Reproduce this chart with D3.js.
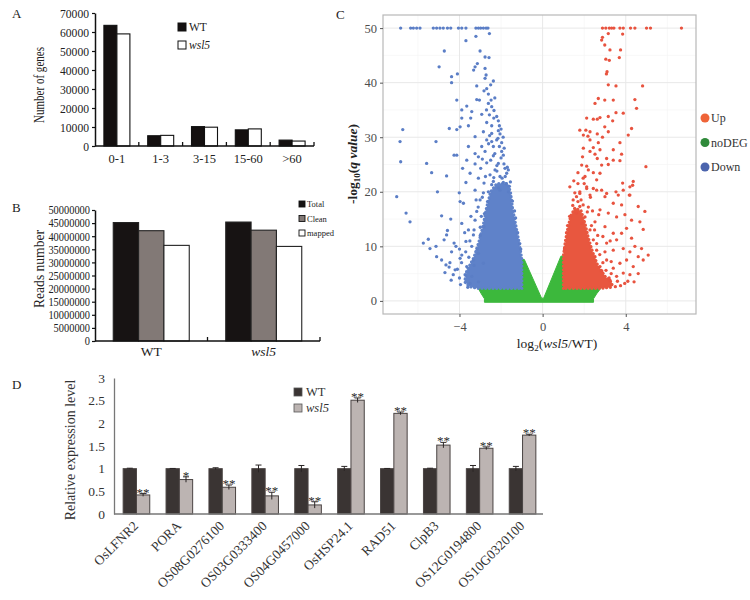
<!DOCTYPE html>
<html><head><meta charset="utf-8">
<script src="https://cdn.jsdelivr.net/npm/d3@7"></script>
<style>
html,body{margin:0;padding:0;background:#fff;}
svg{display:block;font-family:"Liberation Serif","Times New Roman",serif;}
</style></head>
<body><svg id="c" width="750" height="600"></svg>
<script>
// ---------- Panel A data ----------
const geneCats = ["0-1","1-3","3-15","15-60",">60"];
const geneWT = [63500, 5400, 10200, 8500, 3100];
const geneWsl5 = [59000, 5600, 9900, 9000, 2600];
const geneTicks = [0,10000,20000,30000,40000,50000,60000,70000];
// ---------- Panel B data ----------
const readSamples = ["WT","wsl5"];
const readTypes = ["Total","Clean","mapped"];
const readsWT = [45200000, 42100000, 36500000];
const readsWsl5 = [45400000, 42300000, 36100000];
const readTicks = [0,5000000,10000000,15000000,20000000,25000000,30000000,35000000,40000000,45000000,50000000];
// ---------- Panel C data (log2FC, -log10 q) ----------
const volXTicks = [-4,0,4];
const volYTicks = [0,10,20,30,40,50];
const noDegShape = [[-1.0,7.6],[-1.0,2.3],[-3.1,2.3],[-2.95,1.3],[-2.8,0.4],[-2.8,-0.25],[2.45,-0.25],[2.45,0.4],[2.6,1.3],[2.8,2.3],[1.0,2.3],[1.0,8.2],[0.88,8.2],[0.05,0.5],[-0.05,0.5],[-0.88,7.6]];
const downCore = [[-1.0,2.3],[-1.0,7.6],[-1.15,11],[-1.3,14],[-1.45,17],[-1.55,20],[-1.7,21.5],[-2.2,21.5],[-2.5,20],[-2.7,17],[-2.85,14],[-3.05,11],[-3.3,8],[-3.65,5.5],[-3.75,3.5],[-3.5,2.6],[-3.1,2.3]];
const upCore = [[1.0,2.3],[1.0,8.2],[1.1,11],[1.2,13],[1.35,15.5],[1.55,17],[1.85,16.5],[2.05,14],[2.2,11.5],[2.4,9],[2.65,6.5],[3.0,4.5],[3.35,3.2],[3.3,2.5],[2.8,2.3]];
const downPts = [
[-6.83,50],[-6.35,50],[-6.22,50],[-6.06,50],[-5.90,50],[-5.26,50],[-5.10,50],[-4.94,50],[-4.78,50],[-4.58,50],[-4.42,50],[-4.05,50],[-3.89,50],[-3.69,50],[-3.21,50],[-3.09,50],[-2.98,50],[-2.85,50],[-2.72,50],[-2.63,50],
[-2.56,49.0],[-3.21,48.5],[-3.69,47.7],[-4.73,45.8],[-3.01,45.8],[-2.77,44.7],[-2.58,44.6],[-4.98,42.9],[-3.25,42.9],[-3.14,43.5],[-3.32,42.3],[-2.77,42.6],[-2.72,41.4],[-2.77,40.8],[-4.10,41.6],[-4.38,41.1],[-4.38,40.0],[-2.37,40.3],[-2.50,39.6],[-3.17,39.4],[-2.69,38.9],[-2.82,38.5],[-2.61,37.9],[-4.13,36.8],[-3.17,36.9],[-3.04,36.8],[-2.48,36.8],[-2.61,36.2],[-3.65,35.7],[-2.45,35.6],[-3.89,35.0],[-3.41,34.7],[-2.34,34.9],[-2.93,34.2],[-2.56,34.1],[-2.21,33.8],[-3.89,33.5],[-3.46,33.5],[-2.13,33.0],[-2.69,32.7],[-3.97,31.9],[-2.45,32.1],[-2.08,32.1],[-4.49,31.6],[-4.13,31.4],[-3.57,32.1],[-2.13,31.2],[-6.73,31.4],[-2.85,31.0],[-2.45,30.7],[-2.05,30.6],[-3.25,30.1],[-2.69,29.5],[-2.45,29.2],[-6.86,29.2],[-5.13,29.2],[-2.21,29.5],[-1.97,29.0],[-3.57,28.3],[-2.93,28.3],[-2.37,28.3],[-2.08,28.3],[-4.13,26.7],[-4.26,26.7],[-3.25,27.0],[-2.77,27.4],[-1.97,27.4],[-3.09,26.4],[-2.37,26.6],[-1.89,26.7],[-6.83,25.5],[-5.58,25.2],[-3.65,25.8],[-3.25,25.1],[-2.69,25.3],[-2.13,25.2],[-1.86,25.1],[-3.85,24.3],[-2.98,24.3],[-2.29,24.0],[-1.81,24.3],[-5.34,23.5],[-4.62,22.9],[-3.49,23.4],[-3.09,22.5],[-2.53,23.1],[-2.05,22.8],[-1.73,23.4],[-3.69,21.7],[-2.82,21.6],[-2.37,21.9],[-1.89,21.7],[-5.06,20.0],[-4.01,19.8],[-3.25,20.3],[-7.02,19.1],[-2.61,20.0],[-2.13,20.7],[-1.65,20.0],
[-6.57,16.1],[-6.38,14.5],[-4.86,15.6],[-5.74,10.6],[-5.50,11.3],[-5.42,9.6],[-5.13,10.0],[-4.58,12.9],[-4.62,12.1],[-4.74,11.2],[-4.42,15.0],[-4.26,10.6],[-4.17,10.0],[-3.97,18.2],[-3.81,17.9],[-3.89,14.2],[-3.57,13.0],[-3.69,10.9],[-3.33,12.1],[-3.41,10.0],[-3.25,14.8],[-3.17,16.4],[-3.01,18.5],[-2.82,13.6],[-5.10,8.1],[-4.86,7.5],[-4.65,6.6],[-4.46,7.0],[-3.97,7.8],[-3.65,6.3],[-4.21,5.7],[-3.73,4.8],[-3.41,4.5],[-4.38,9.0],[-3.89,8.4],[-3.33,7.5],[-3.09,8.7],[-2.85,6.9],[-3.49,3.2],[-3.09,3.5],
[-1.75,21.5],[-1.95,22.5],[-2.2,23.8],[-1.7,24.5],[-2.5,25.8],[-2.0,26.2],[-2.3,27.0],[-1.85,28.0],[-2.15,29.8],[-2.55,30.3],[-2.0,31.5],[-2.35,33.5],[-2.7,35.0],[-2.3,37.2],[-2.2,24.8],[-2.45,21.3],[-2.75,22.8],[-1.6,21.0],[-2.9,26.0],[-2.6,28.8],[-1.9,30.0],
[-2.9,19.0],[-3.1,17.2],[-2.95,15.5],[-3.3,13.0],[-3.5,11.0],[-3.7,9.0],[-3.9,7.0],[-4.1,5.8],[-4.0,4.2],[-3.95,3.0],[-3.6,2.5],[-4.3,4.8],[-4.5,6.2],[-4.0,9.5],[-3.75,12.5],[-3.45,15.5],[-3.2,18.5],[-2.85,19.8],[-3.55,8.0],[-3.3,6.5],[-4.7,5.2],[-4.4,3.8],[-3.0,12.0],[-3.15,9.5],
[-1.05,9.5],[-1.2,12.5],[-1.3,15.2],[-1.45,18.3],[-1.55,21.8],[-1.65,24.0],[-1.1,10.5],[-1.35,16.5],[-1.8,22.8],[-2.05,20.3],[-2.35,22.6],[-2.65,18.2],[-2.8,16.0],[-3.0,13.5]
];
const upPts = [
[2.88,50],[3.04,50],[3.21,50],[3.32,50],[3.43,50],[3.72,50],[3.88,50],[4.23,50],[4.44,50],[5.0,50],[5.19,50],[6.68,50],
[3.16,49.0],[2.88,48.3],[2.84,47.8],[3.85,48.9],[2.99,46.9],[3.24,46.0],[3.75,46.0],[3.04,44.3],[3.21,44.1],[3.69,44.6],[3.10,42.0],[3.07,41.6],[3.16,39.6],[3.53,39.4],[4.81,39.4],[2.68,37.1],[2.99,36.8],[3.40,36.8],[4.44,36.9],[4.52,35.3],[2.52,36.2],[3.53,34.5],[3.88,34.4],[2.76,33.6],[3.16,33.8],[2.12,33.5],[2.44,33.3],[2.63,33.3],[3.37,33.0],[2.99,31.9],[4.28,31.6],[1.79,31.3],[2.08,31.3],[2.28,31.0],[3.16,31.0],[1.96,30.4],[2.18,30.2],[2.63,30.6],[2.88,30.0],[4.12,30.4],[2.28,29.5],[2.68,29.0],[3.72,29.0],[1.96,28.0],[2.44,28.1],[2.76,27.7],[3.40,27.7],[2.28,27.4],[2.52,26.9],[3.80,26.9],[1.92,26.4],[2.63,26.1],[3.08,26.1],[3.40,25.8],[3.72,25.7],[1.88,24.9],[2.12,24.7],[2.84,24.9],[3.16,25.0],[4.97,24.6],[2.20,24.0],[2.44,23.5],[2.76,23.4],[2.04,22.8],[2.60,22.2],[3.85,21.6],[4.36,21.9],[4.20,20.9],[2.12,20.9],[2.44,20.6],[2.84,20.3],[3.53,20.0],[1.79,20.0],[1.63,19.1],[2.28,19.4],[4.17,19.4],[3.00,19.1],
[1.31,20.9],[1.79,19.7],[2.12,20.6],[2.60,20.3],[3.08,19.7],[3.64,19.4],[3.88,20.3],[4.33,21.2],[4.20,19.4],[3.40,17.9],[3.80,17.6],[4.60,17.3],[4.92,16.4],[2.76,16.7],[3.16,16.1],[3.56,15.4],[3.96,15.8],[4.28,14.8],[4.68,14.5],[4.84,13.1],[4.04,13.3],[3.00,13.6],[2.52,14.5],[3.40,12.4],[3.80,12.4],[3.56,11.2],[4.28,11.5],[4.44,10.0],[4.76,9.6],[5.08,8.4],[4.84,7.5],[4.60,8.1],[4.20,9.0],[3.88,9.6],[3.40,9.3],[3.08,10.6],[4.04,7.5],[4.36,6.3],[3.72,6.9],[3.40,6.0],[3.08,7.5],[3.88,5.1],[4.20,4.8],[3.56,4.5],[3.24,3.8],[2.76,6.3],[2.52,8.1],[2.44,11.2],[2.28,13.0],[2.04,15.4],[1.79,17.3],[1.63,16.1],[1.88,14.2],[1.47,18.5],
[1.05,9.5],[1.15,12.5],[1.2,13.8],[1.3,15.5],[1.45,17.5],[1.55,19.8],[1.7,21.5],[2.0,21.5],[2.3,19.0],[2.4,16.5],[2.5,13.0],[2.6,10.5],[2.75,8.5],[2.9,7.0],[3.05,5.6],[3.3,5.0],[3.6,3.6],[3.75,2.8],[3.95,3.2],[3.5,2.6],[3.2,4.2],[2.85,5.5],[2.6,9.3],[2.35,13.8],[2.2,17.2],[1.95,22.5],[1.7,23.5],[1.5,22.0],[2.9,11.8],[2.7,15.8],[3.25,11.0],[3.0,9.0],[3.3,7.2],[4.1,3.6],[4.4,3.5],[4.6,5.0],[2.65,12.0],[1.85,18.5],[1.95,17.6],[2.15,16.3],[1.7,18.2]
];
const volLegend = ["Up","noDEG","Down"];
// ---------- Panel D data ----------
const qGenes = ["OsLFNR2","PORA","OS08G0276100","OS03G0333400","OS04G0457000","OsHSP24.1","RAD51","ClpB3","OS12G0194800","OS10G0320100"];
const exprWT = [1,1,1,1,1,1,1,1,1,1];
const errWT = [0.01,0.005,0.02,0.08,0.07,0.05,0.005,0.01,0.07,0.05];
const exprWsl5 = [0.42,0.76,0.59,0.40,0.20,2.51,2.22,1.52,1.45,1.74];
const errWsl5 = [0.03,0.06,0.05,0.08,0.07,0.05,0.03,0.06,0.03,0.02];
const sigMarks = ["**","*","**","**","**","**","**","**","**","**"];
const exprTicks = [0,0.5,1,1.5,2,2.5,3];

const svg = d3.select("#c");
const FONT = '"Liberation Serif","Times New Roman",serif';

function panelLetter(t,x,y){ svg.append("text").attr("x",x).attr("y",y).attr("font-size",13).attr("fill","#222").text(t); }

// ================= Panel A =================
(function(){
  const g = svg.append("g");
  const xA = d3.scaleBand().domain(geneCats).range([95,314]);
  const sA = d3.scaleBand().domain(["WT","wsl5"]).range([0,26]);
  const yA = d3.scaleLinear().domain([0,70000]).range([146,13]);
  const off = (xA.bandwidth()-26)/2;
  const series = [["WT",geneWT,"#141010"],["wsl5",geneWsl5,"#fff"]];
  series.forEach(([k,vals,col])=>{
    g.selectAll(null).data(geneCats).join("rect")
      .attr("x",c=>xA(c)+off+sA(k)).attr("width",sA.bandwidth())
      .attr("y",(c,i)=>yA(vals[i])).attr("height",(c,i)=>yA(0)-yA(vals[i]))
      .attr("fill",col).attr("stroke","#111").attr("stroke-width",1.1);
  });
  const ay = g.append("g").attr("transform","translate(95,0)")
    .call(d3.axisLeft(yA).tickValues(geneTicks).tickSize(3).tickSizeOuter(0).tickFormat(d3.format("d")));
  ay.select(".domain").attr("stroke","#111").attr("stroke-width",1.5);
  ay.selectAll(".tick line").attr("stroke","#111").attr("stroke-width",1.2);
  ay.selectAll("text").attr("font-family",FONT).attr("font-size",13).attr("fill","#222").attr("x",-6)
    .attr("textLength",function(){return this.textContent.length*5.8;}).attr("lengthAdjust","spacingAndGlyphs");
  g.append("line").attr("x1",95).attr("x2",314).attr("y1",yA(0)).attr("y2",yA(0)).attr("stroke","#111").attr("stroke-width",1.5);
  g.selectAll(null).data(geneCats).join("line")
    .attr("x1",c=>xA(c)+xA.bandwidth()).attr("x2",c=>xA(c)+xA.bandwidth())
    .attr("y1",yA(0)).attr("y2",yA(0)-4).attr("stroke","#111").attr("stroke-width",1.3);
  g.selectAll(null).data(geneCats).join("text")
    .attr("x",c=>xA(c)+xA.bandwidth()/2).attr("y",163).attr("text-anchor","middle")
    .attr("font-size",12.5).attr("fill","#222").text(c=>c);
  g.append("text").attr("transform","translate(44,85) rotate(-90)").attr("text-anchor","middle")
    .attr("font-size",14.5).attr("fill","#222").attr("textLength",76).attr("lengthAdjust","spacingAndGlyphs").text("Number of  genes");
  const lg = [["WT","#141010",27,false],["wsl5","#fff",45,true]];
  lg.forEach(([t,c,y,it])=>{
    g.append("rect").attr("x",178).attr("y",y-4).attr("width",8).attr("height",8).attr("fill",c).attr("stroke","#111").attr("stroke-width",1);
    g.append("text").attr("x",189).attr("y",y+4).attr("font-size",11.5).attr("fill","#222").attr("font-style",it?"italic":"normal").text(t);
  });
  panelLetter("A",12,18);
})();

// ================= Panel B =================
(function(){
  const g = svg.append("g");
  const xB = d3.scaleBand().domain(readSamples).range([95,320]);
  const sB = d3.scaleBand().domain(readTypes).range([0,76]);
  const yB = d3.scaleLinear().domain([0,50000000]).range([341,210]);
  const cols = {"Total":"#171313","Clean":"#827976","mapped":"#fff"};
  const off = (xB.bandwidth()-76)/2;
  const vals = {"WT":readsWT,"wsl5":readsWsl5};
  readSamples.forEach(smp=>{
    g.selectAll(null).data(readTypes).join("rect")
      .attr("x",t=>xB(smp)+off+sB(t)).attr("width",sB.bandwidth())
      .attr("y",(t,i)=>yB(vals[smp][i])).attr("height",(t,i)=>yB(0)-yB(vals[smp][i]))
      .attr("fill",t=>cols[t]).attr("stroke","#222").attr("stroke-width",1.1);
  });
  const ay = g.append("g").attr("transform","translate(95,0)")
    .call(d3.axisLeft(yB).tickValues(readTicks).tickSize(3).tickSizeOuter(0).tickFormat(d3.format("d")));
  ay.select(".domain").attr("stroke","#111").attr("stroke-width",1.5);
  ay.selectAll(".tick line").attr("stroke","#111").attr("stroke-width",1.2);
  ay.selectAll("text").attr("font-family",FONT).attr("font-size",12).attr("fill","#222").attr("x",-5)
    .attr("textLength",function(){return this.textContent.length*5.2;}).attr("lengthAdjust","spacingAndGlyphs");
  g.append("line").attr("x1",95).attr("x2",320).attr("y1",yB(0)).attr("y2",yB(0)).attr("stroke","#111").attr("stroke-width",1.5);
  g.selectAll(null).data(readSamples).join("line")
    .attr("x1",d=>xB(d)+xB.bandwidth()).attr("x2",d=>xB(d)+xB.bandwidth())
    .attr("y1",yB(0)).attr("y2",yB(0)-4).attr("stroke","#111").attr("stroke-width",1.3);
  g.selectAll(null).data(readSamples).join("text")
    .attr("x",d=>xB(d)+xB.bandwidth()/2).attr("y",356).attr("text-anchor","middle")
    .attr("font-size",13.5).attr("fill","#222").attr("font-style",d=>d==="wsl5"?"italic":"normal").text(d=>d);
  g.append("text").attr("transform","translate(44,269) rotate(-90)").attr("text-anchor","middle")
    .attr("font-size",14.5).attr("fill","#222").attr("textLength",78).attr("lengthAdjust","spacingAndGlyphs").text("Reads number");
  readTypes.forEach((t,i)=>{
    const y = 204 + i*14.5;
    g.append("rect").attr("x",299).attr("y",y-3).attr("width",6).attr("height",6).attr("fill",cols[t]).attr("stroke","#111").attr("stroke-width",0.9);
    g.append("text").attr("x",307).attr("y",y+3).attr("font-size",8.5).attr("fill","#222").text(t);
  });
  panelLetter("B",12,212);
})();

// ================= Panel C =================
(function(){
  const g = svg.append("g");
  const xC = d3.scaleLinear().domain([-7.68,7.38]).range([383,696]);
  const yC = d3.scaleLinear().domain([-2.4,52.4]).range([314,15]);
  svg.append("defs").append("clipPath").attr("id","clipC").append("rect")
    .attr("x",383).attr("y",15).attr("width",313).attr("height",299);
  const minorX = [-6,-2,2,6], minorY=[5,15,25,35,45];
  g.selectAll(null).data(minorX).join("line").attr("x1",d=>xC(d)).attr("x2",d=>xC(d)).attr("y1",15).attr("y2",314).attr("stroke","#f3f3f3").attr("stroke-width",0.6);
  g.selectAll(null).data(minorY).join("line").attr("y1",d=>yC(d)).attr("y2",d=>yC(d)).attr("x1",383).attr("x2",696).attr("stroke","#f3f3f3").attr("stroke-width",0.6);
  g.selectAll(null).data(volXTicks).join("line").attr("x1",d=>xC(d)).attr("x2",d=>xC(d)).attr("y1",15).attr("y2",314).attr("stroke","#e8e8e8").attr("stroke-width",1);
  g.selectAll(null).data(volYTicks).join("line").attr("y1",d=>yC(d)).attr("y2",d=>yC(d)).attr("x1",383).attr("x2",696).attr("stroke","#e8e8e8").attr("stroke-width",1);
  const pg = g.append("g").attr("clip-path","url(#clipC)");
  const line = d3.line().x(d=>xC(d[0])).y(d=>yC(d[1])).curve(d3.curveLinearClosed);
  pg.append("path").attr("d",line(noDegShape)).attr("fill","#3cb83c").attr("stroke","#3cb83c").attr("stroke-width",1);
  [[downCore,"#5f82c9"],[upCore,"#e8573f"]].forEach(([s,c])=>{
    pg.append("path").attr("d",line(s)).attr("fill",c)
      .attr("stroke",c).attr("stroke-width",3.2).attr("stroke-linecap","round").attr("stroke-dasharray","0.1 3.6");
  });
  pg.selectAll(null).data(downPts).join("circle").attr("cx",d=>xC(d[0])).attr("cy",d=>yC(d[1])).attr("r",1.65).attr("fill","#5b7ec6");
  pg.selectAll(null).data(upPts).join("circle").attr("cx",d=>xC(d[0])).attr("cy",d=>yC(d[1])).attr("r",1.65).attr("fill","#e8533f");
  g.append("rect").attr("x",383).attr("y",15).attr("width",313).attr("height",299).attr("fill","none").attr("stroke","#b8b8b8").attr("stroke-width",1.2);
  const ay = g.append("g").attr("transform","translate(383,0)").call(d3.axisLeft(yC).tickValues(volYTicks).tickSize(3).tickSizeOuter(0));
  ay.select(".domain").remove();
  ay.selectAll(".tick line").attr("stroke","#555");
  ay.selectAll("text").attr("font-family",FONT).attr("font-size",12.5).attr("fill","#4d4d4d");
  const ax = g.append("g").attr("transform","translate(0,314)").call(d3.axisBottom(xC).tickValues(volXTicks).tickSize(3).tickSizeOuter(0));
  ax.select(".domain").remove();
  ax.selectAll(".tick line").attr("stroke","#555");
  ax.selectAll("text").attr("font-family",FONT).attr("font-size",12.5).attr("fill","#4d4d4d").attr("dy","0.9em");
  const xt = g.append("text").attr("x",557).attr("y",348).attr("text-anchor","middle").attr("font-size",13.5).attr("fill","#222");
  xt.append("tspan").text("log");
  xt.append("tspan").attr("dy",3).attr("font-size",9).text("2");
  xt.append("tspan").attr("dy",-3).text("(");
  xt.append("tspan").attr("font-style","italic").text("wsl5");
  xt.append("tspan").text("/WT)");
  const yt = g.append("text").attr("transform","translate(357,164) rotate(-90)").attr("text-anchor","middle").attr("font-size",13.5).attr("fill","#222").attr("font-weight","bold");
  yt.append("tspan").text("-log");
  yt.append("tspan").attr("dy",3).attr("font-size",9).text("10");
  yt.append("tspan").attr("dy",-3).text("(");
  yt.append("tspan").attr("font-style","italic").text("q value");
  yt.append("tspan").text(")");
  const lcol = {"Up":"#ef6438","noDEG":"#2f8a3a","Down":"#4b64ad"};
  volLegend.forEach((t,i)=>{
    const y = 118 + i*24.5;
    g.append("circle").attr("cx",705).attr("cy",y).attr("r",4.5).attr("fill",lcol[t]);
    g.append("text").attr("x",711).attr("y",y+4).attr("font-size",12).attr("fill","#333").text(t);
  });
  panelLetter("C",336,19);
})();

// ================= Panel D =================
(function(){
  const g = svg.append("g");
  const xD = d3.scaleBand().domain(qGenes).range([114,543]);
  const sD = d3.scaleBand().domain(["WT","wsl5"]).range([0,26.6]);
  const yD = d3.scaleLinear().domain([0,3]).range([514,378]);
  const off = (xD.bandwidth()-26.6)/2 + 1;
  const ser = [["WT",exprWT,errWT,"#3a3433"],["wsl5",exprWsl5,errWsl5,"#bcb4b2"]];
  ser.forEach(([k,vals,errs,col])=>{
    g.selectAll(null).data(qGenes).join("rect")
      .attr("x",c=>xD(c)+off+sD(k)).attr("width",sD.bandwidth())
      .attr("y",(c,i)=>yD(vals[i])).attr("height",(c,i)=>yD(0)-yD(vals[i]))
      .attr("fill",col).attr("stroke","#4a4443").attr("stroke-width",1);
    const cx = c=>xD(c)+off+sD(k)+sD.bandwidth()/2;
    g.selectAll(null).data(qGenes).join("line")
      .attr("x1",cx).attr("x2",cx)
      .attr("y1",(c,i)=>yD(vals[i]-errs[i])).attr("y2",(c,i)=>yD(vals[i]+errs[i]))
      .attr("stroke","#2a2525").attr("stroke-width",1);
    g.selectAll(null).data(qGenes).join("line")
      .attr("x1",c=>cx(c)-3).attr("x2",c=>cx(c)+3)
      .attr("y1",(c,i)=>yD(vals[i]+errs[i])).attr("y2",(c,i)=>yD(vals[i]+errs[i]))
      .attr("stroke","#2a2525").attr("stroke-width",1);
    if(k==="wsl5"){
      g.selectAll(null).data(qGenes).join("text")
        .attr("x",cx).attr("y",(c,i)=>yD(vals[i]+errs[i])+3).attr("text-anchor","middle")
        .attr("font-size",13).attr("fill","#2b2b2b").text((c,i)=>sigMarks[i]);
    }
  });
  const ay = g.append("g").attr("transform","translate(114,0)")
    .call(d3.axisLeft(yD).tickValues(exprTicks).tickSize(0).tickSizeOuter(0).tickFormat(d=>String(d)));
  ay.select(".domain").attr("stroke","#777").attr("stroke-width",1.3);
  ay.selectAll("text").attr("font-family",FONT).attr("font-size",13.5).attr("fill","#333").attr("x",-9);
  g.append("line").attr("x1",114).attr("x2",543).attr("y1",yD(0)).attr("y2",yD(0)).attr("stroke","#777").attr("stroke-width",1.3);
  g.selectAll(null).data(qGenes).join("text")
    .attr("transform",c=>`translate(${xD(c)+xD.bandwidth()/2-3},${520}) rotate(-45)`)
    .attr("text-anchor","end").attr("dy","0.7em").attr("font-size",13.5).attr("fill","#333").text(c=>c);
  g.append("text").attr("transform","translate(75,450) rotate(-90)").attr("text-anchor","middle")
    .attr("font-size",14).attr("fill","#333").text("Relative expression level");
  [["WT","#3a3433",392,false],["wsl5","#bcb4b2",408,true]].forEach(([t,c,y,it])=>{
    g.append("rect").attr("x",294).attr("y",y-4).attr("width",8).attr("height",8).attr("fill",c).attr("stroke","#555").attr("stroke-width",0.8);
    g.append("text").attr("x",306).attr("y",y+4).attr("font-size",12.5).attr("fill","#333").attr("font-style",it?"italic":"normal").text(t);
  });
  panelLetter("D",12,389);
})();
</script></body></html>
